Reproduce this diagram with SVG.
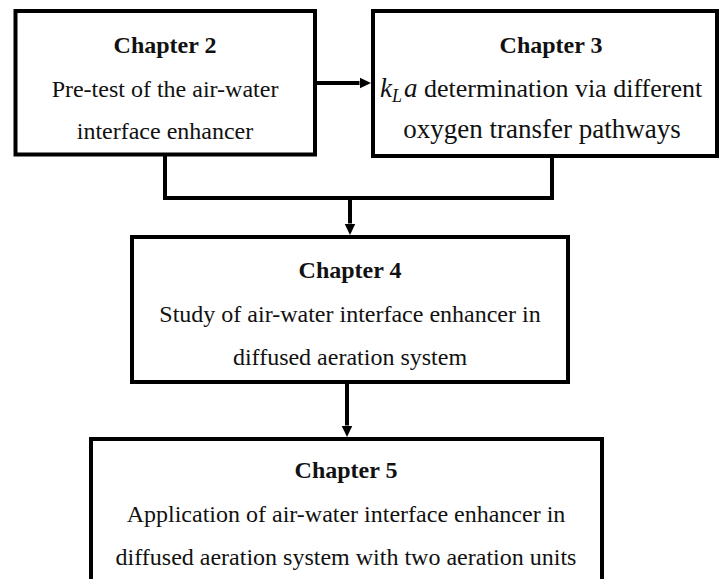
<svg xmlns="http://www.w3.org/2000/svg" width="719" height="579" viewBox="0 0 719 579">
<defs>
<style>
.box{fill:#fff;stroke:#000;stroke-width:4}
.t{font-family:'Liberation Serif';font-size:24px;fill:#111;text-anchor:middle}
.h{font-weight:bold}
.i{font-style:italic}
.c{fill:none;stroke:#000;stroke-width:4}
</style>
<marker id="ah" markerWidth="12" markerHeight="12" refX="0" refY="6" orient="auto" markerUnits="userSpaceOnUse">
<path d="M0,0.5 L11.5,6 L0,11.5 z" fill="#000"/>
</marker>
</defs>
<rect width="719" height="579" fill="#fff"/>
<g id="connectors">
<path class="c" d="M317,83 H359.5" marker-end="url(#ah)"/>
<path class="c" d="M165,156 V198 H552 V157"/>
<path class="c" d="M350,198 V223.5" marker-end="url(#ah)"/>
<path class="c" d="M347,384 V425.5" marker-end="url(#ah)"/>
</g>
<g id="chapter2">
<rect class="box" x="15.5" y="11" width="299.5" height="143.5"/>
<text class="t h" x="165" y="53">Chapter 2</text>
<text class="t" x="165" y="97">Pre-test of the air-water</text>
<text class="t" x="165" y="139">interface enhancer</text>
</g>
<g id="chapter3">
<rect class="box" x="373" y="11" width="344" height="145"/>
<text class="t h" x="551" y="53">Chapter 3</text>
<text class="t" x="380" y="97" style="text-anchor:start"><tspan class="i" font-size="27">k</tspan><tspan class="i" font-size="18" dy="5">L</tspan><tspan class="i" font-size="27" dx="2" dy="-5">a</tspan><tspan font-size="26"> determination via different</tspan></text>
<text class="t" x="542" y="138" font-size="27" style="font-size:27px">oxygen transfer pathways</text>
</g>
<g id="chapter4">
<rect class="box" x="132" y="237" width="436" height="145"/>
<text class="t h" x="350" y="278">Chapter 4</text>
<text class="t" x="350" y="322">Study of air-water interface enhancer in</text>
<text class="t" x="350" y="365">diffused aeration system</text>
</g>
<g id="chapter5">
<rect class="box" x="91" y="439" width="511" height="150"/>
<text class="t h" x="346" y="478">Chapter 5</text>
<text class="t" x="346" y="522">Application of air-water interface enhancer in</text>
<text class="t" x="346" y="565">diffused aeration system with two aeration units</text>
</g>
</svg>
